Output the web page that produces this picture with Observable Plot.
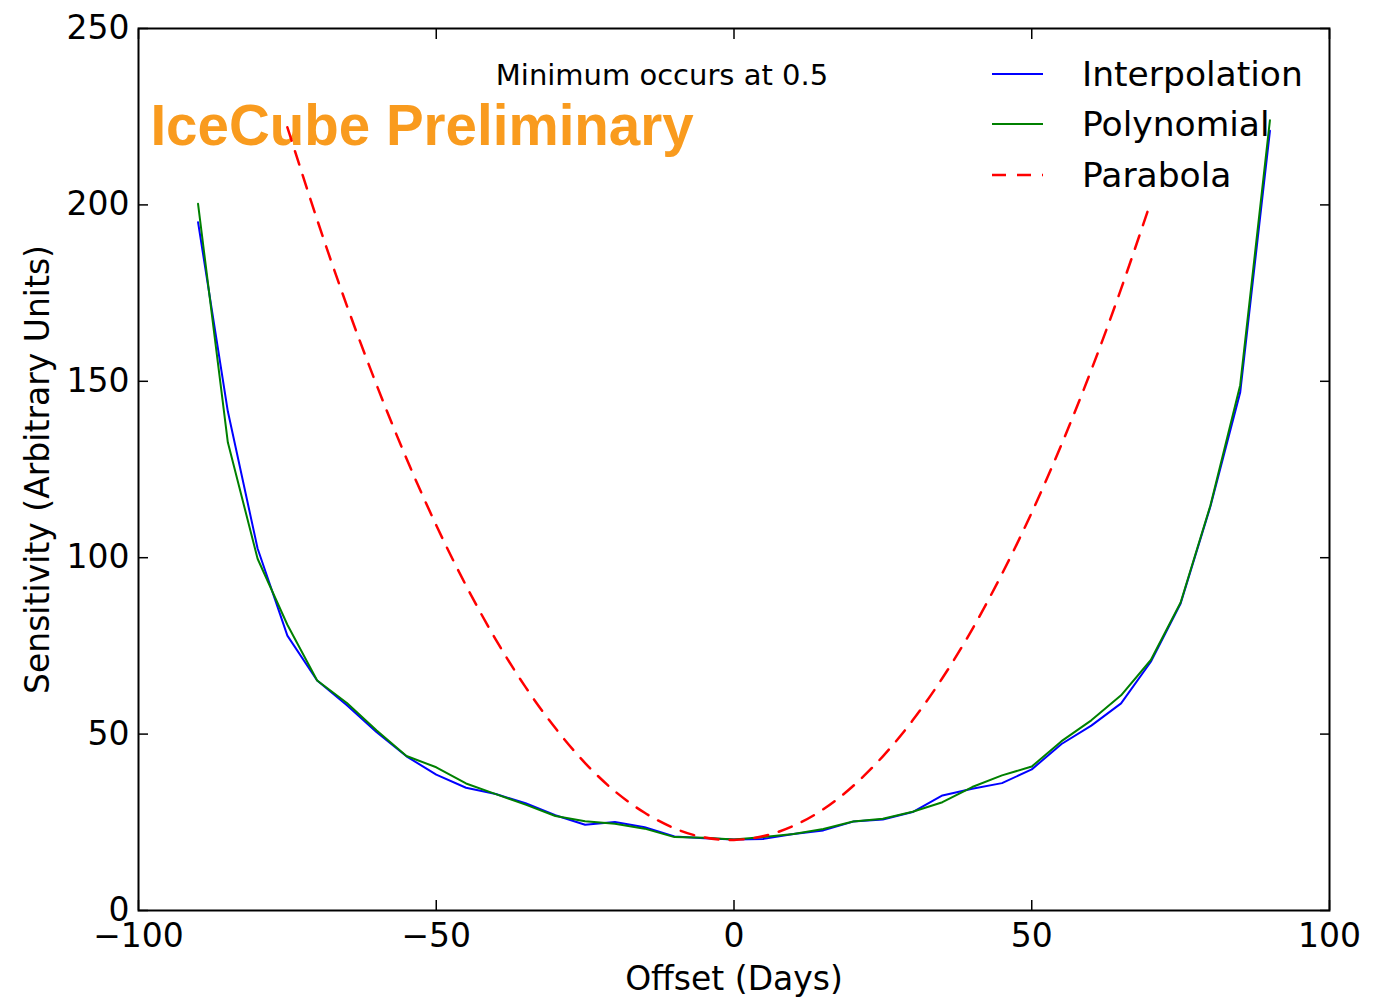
<!DOCTYPE html>
<html><head><meta charset="utf-8">
<script src="https://cdn.jsdelivr.net/npm/d3@7"></script>
<script src="https://cdn.jsdelivr.net/npm/@observablehq/plot@0.6"></script>
<style>
body{margin:0;background:#fff;}
#wrap{position:relative;width:1393px;height:1001px;font-family:"DejaVu Sans";}
#legend{position:absolute;left:992px;top:48.5px;}
.row{display:flex;align-items:center;height:50.5px;font-size:34.5px;color:#000;}
.row svg{width:51px;height:10px;margin-right:39px;display:block;}
</style></head><body><div id="wrap"></div>
<script>
// ---- data ----
const days = [-90,-85,-80,-75,-70,-65,-60,-55,-50,-45,-40,-35,-30,-25,-20,-15,-10,-5,0,5,10,15,20,25,30,35,40,45,50,55,60,65,70,75,80,85,90];
const interpolation = [195.1,141.5,102.6,77.9,65.2,58.2,50.5,43.7,38.5,34.8,33.0,30.4,27.0,24.3,25.1,23.6,21.0,20.5,20.1,20.3,21.7,22.7,25.2,25.8,27.9,32.6,34.5,36.1,40.0,47.2,52.4,58.7,70.5,87.0,114.5,146.8,221.0];
const polynomial = [200.3,132.7,99.7,81.0,65.2,58.8,51.0,43.8,40.6,36.0,33.0,30.0,26.8,25.3,24.6,23.2,20.8,20.6,20.1,20.8,21.7,23.1,25.2,26.0,28.0,30.7,35.0,38.3,40.8,48.0,53.9,61.0,71.0,87.3,114.8,148.9,224.0];
const parabolaDays = [-75,-70,-65,-60,-55,-50,-45,-40,-35,-30,-25,-20,-15,-10,-5,0,5,10,15,20,25,30,35,40,45,50,55,60,65,70];
const parabola = [222.0,195.8,171.4,148.9,128.1,109.2,92.1,76.8,63.3,51.7,41.8,33.8,27.7,23.3,20.7,20.0,21.1,24.0,28.7,35.3,43.7,53.9,65.9,79.7,95.4,112.8,132.1,153.2,176.2,200.9];
const xTicks = [-100,-50,0,50,100];
const yTicks = [0,50,100,150,200,250];
const seriesNames = ["Interpolation","Polynomial","Parabola"];
const seriesColors = ["#0000ff","#008000","#ff0000"];
const xLabel = "Offset (Days)";
const yLabel = "Sensitivity (Arbitrary Units)";
const note = {x: -40, y: 234, text: "Minimum occurs at 0.5"};
const watermark = {x: -98, y: 217, text: "IceCube Preliminary"};

// ---- build tables ----
const interpRows = days.map((d,i)=>({day:d, value:interpolation[i]}));
const polyRows = days.map((d,i)=>({day:d, value:polynomial[i]}));
const paraRows = parabolaDays.map((d,i)=>({day:d, value:parabola[i]}));

const chart = Plot.plot({
  width: 1393, height: 1001,
  marginLeft: 138, marginRight: 64, marginTop: 28, marginBottom: 91,
  style: {fontFamily: "DejaVu Sans", fontSize: "33px", background: "white", color: "black", overflow: "visible"},
  x: {domain: [-100, 100]},
  y: {domain: [0, 250]},
  marks: [
    Plot.text([watermark], {x: "x", y: "y", text: "text", textAnchor: "start", lineAnchor: "bottom",
      fontFamily: "Liberation Sans", fontWeight: "bold", fontSize: 56.5, fill: "#f99b1e"}),
    Plot.text([note], {x: "x", y: "y", text: "text", textAnchor: "start", lineAnchor: "bottom", fontSize: 29, fill: "black"}),
    Plot.line(interpRows, {x: "day", y: "value", stroke: seriesColors[0], strokeWidth: 2}),
    Plot.line(polyRows, {x: "day", y: "value", stroke: seriesColors[1], strokeWidth: 2}),
    Plot.line(paraRows, {x: "day", y: "value", stroke: seriesColors[2], strokeWidth: 2.5, strokeDasharray: "14,11", curve: "natural"}),
    Plot.frame({stroke: "black", strokeWidth: 2}),
    Plot.axisX(xTicks, {anchor: "bottom", tickSize: -10, tickPadding: 23, label: null, fontSize: 33, strokeWidth: 1.5}),
    Plot.axisX(xTicks, {anchor: "top", tickSize: -10, tickFormat: () => "", label: null, strokeWidth: 1.5}),
    Plot.axisY(yTicks, {anchor: "left", tickSize: -10, tickPadding: 19, label: null, fontSize: 33, strokeWidth: 1.5}),
    Plot.axisY(yTicks, {anchor: "right", tickSize: -10, tickFormat: () => "", label: null, strokeWidth: 1.5}),
    Plot.text([xLabel], {text: d => d, frameAnchor: "bottom", textAnchor: "middle", dy: 79, fontSize: 33}),
    Plot.text([yLabel], {text: d => d, frameAnchor: "left", textAnchor: "middle", dx: -100, rotate: -90, fontSize: 33})
  ]
});
const wrap = document.getElementById("wrap");
wrap.appendChild(chart);

// legend (inside the plot area, upper right)
const legend = document.createElement("div");
legend.id = "legend";
seriesNames.forEach((name, i) => {
  const row = document.createElement("div");
  row.className = "row";
  const dash = i === 2 ? ' stroke-dasharray="14,11"' : '';
  row.innerHTML = `<svg viewBox="0 0 51 10"><line x1="0" y1="5" x2="51" y2="5" stroke="${seriesColors[i]}" stroke-width="${i===2?2.5:2}"${dash}/></svg><span>${name}</span>`;
  legend.appendChild(row);
});
wrap.appendChild(legend);
</script>
</body></html>
